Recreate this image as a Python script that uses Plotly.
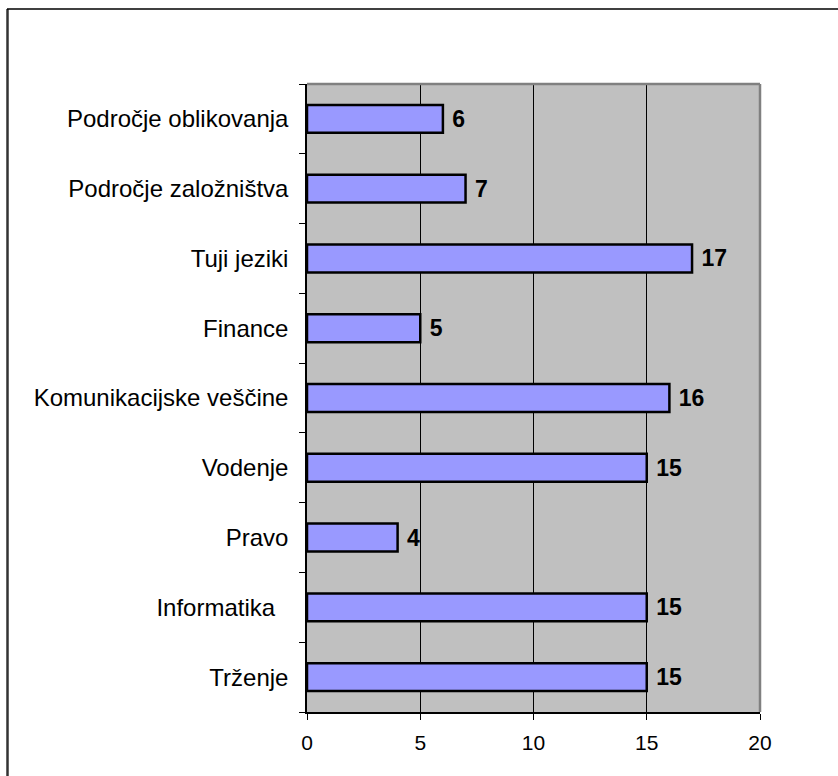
import plotly.graph_objects as go

# Categories listed bottom-to-top (category axis draws the first entry at the bottom)
categories = [
    "Trženje",
    "Informatika\u00a0\u00a0",
    "Pravo",
    "Vodenje",
    "Komunikacijske veščine",
    "Finance",
    "Tuji jeziki",
    "Področje založništva",
    "Področje oblikovanja",
]
values = [15, 15, 4, 15, 16, 5, 17, 7, 6]
x_ticks = [0, 5, 10, 15, 20]

W, H = 838, 776
L, R, T, B = 307, 78, 84, 64
pw, ph = W - L - R, H - T - B

def px_x(x):
    return (x - L) / pw

def px_y(y):
    return (H - B - y) / ph

fig = go.Figure(
    go.Bar(
        x=values,
        y=categories,
        orientation="h",
        marker=dict(color="#9999FF", line=dict(color="black", width=2.5)),
        text=["\u00a0" + str(v) for v in values],
        textposition="outside",
        textfont=dict(family="Liberation Sans, Arial, sans-serif", size=23, color="black", weight="bold"),
        cliponaxis=False,
        hoverinfo="skip",
    )
)

fig.update_layout(
    width=W,
    height=H,
    margin=dict(l=L, r=R, t=T, b=B, pad=0),
    paper_bgcolor="white",
    plot_bgcolor="#C0C0C0",
    bargap=0.6,
    showlegend=False,
    font=dict(family="Liberation Sans, Arial, sans-serif", color="black"),
    xaxis=dict(
        range=[0, 20],
        tickvals=x_ticks,
        ticktext=[str(t) for t in x_ticks],
        ticks="outside",
        ticklen=6,
        tickcolor="black",
        tickfont=dict(size=21),
        ticklabelstandoff=5,
        showgrid=True,
        gridcolor="black",
        gridwidth=1,
        showline=True,
        linecolor="black",
        linewidth=1.5,
        zeroline=False,
        fixedrange=True,
    ),
    yaxis=dict(
        type="category",
        categoryorder="array",
        categoryarray=categories,
        tickson="boundaries",
        ticks="outside",
        ticklen=6,
        tickcolor="black",
        tickfont=dict(size=24),
        ticklabelstandoff=12,
        showgrid=False,
        showline=True,
        linecolor="black",
        linewidth=1.5,
        zeroline=False,
        fixedrange=True,
    ),
    shapes=[
        # top and right edge of the plot area
        dict(type="line", xref="paper", yref="paper", x0=0, x1=1, y0=1, y1=1,
             line=dict(color="#808080", width=2.5)),
        dict(type="line", xref="paper", yref="paper", x0=1, x1=1, y0=0, y1=1,
             line=dict(color="#808080", width=2.5)),
        # chart frame
        dict(type="line", xref="paper", yref="paper",
             x0=px_x(7.5), x1=px_x(7.5), y0=px_y(9), y1=px_y(H + 10),
             line=dict(color="#333333", width=2.5)),
        dict(type="line", xref="paper", yref="paper",
             x0=px_x(7), x1=px_x(W + 10), y0=px_y(9), y1=px_y(9),
             line=dict(color="black", width=1.5)),
    ],
)

fig.write_html("out.html")
